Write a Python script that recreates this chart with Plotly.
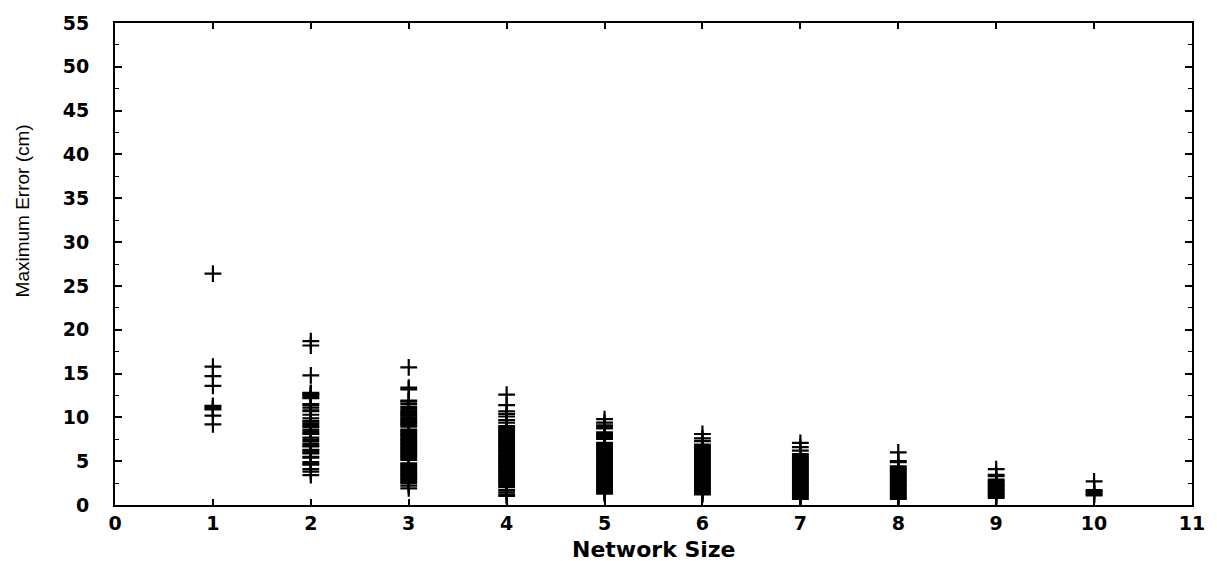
import plotly.graph_objects as go

# Maximum error observed for each network size
size_1 = [26.4, 15.8, 14.7, 13.6, 11.3, 11.2, 11.0, 10.9, 10.2, 9.2]
size_2 = [18.7, 18.2, 14.8, 12.8, 12.7, 12.6, 12.5, 12.3, 12.2, 11.5, 11.4, 11.1,
          10.8, 10.7, 10.3, 9.9, 9.6, 9.5, 9.3, 9.2, 9.0, 8.9, 8.6, 8.4, 8.2, 8.1,
          7.7, 7.5, 7.3, 7.0, 6.8, 6.7, 6.3, 6.2, 6.0, 5.9, 5.5, 5.4, 4.9, 4.7,
          4.6, 4.1, 3.8, 3.4]
size_3 = [15.7, 13.4, 13.2, 11.9, 11.8, 11.5, 11.2, 11.0, 10.8, 10.6, 10.5, 10.3,
          10.2, 10.0, 9.85, 9.7, 9.55, 9.4, 9.25, 9.1, 8.95, 8.6, 8.45, 8.3, 8.15,
          8.0, 7.85, 7.7, 7.55, 7.4, 7.25, 7.1, 6.95, 6.8, 6.65, 6.5, 6.35, 6.2,
          6.05, 5.9, 5.75, 5.6, 5.45, 5.3, 5.15, 4.75, 4.6, 4.45, 4.3, 4.15, 4.0,
          3.85, 3.7, 3.55, 3.4, 3.25, 3.1, 2.95, 2.8, 2.65, 2.5, 2.2, 1.9]
size_4 = [12.6, 11.4, 10.7, 10.4, 10.1, 9.7, 9.4, 9.0, 8.85, 8.7, 8.55, 8.4, 8.25,
          8.1, 7.95, 7.8, 7.65, 7.5, 7.35, 7.2, 7.05, 6.9, 6.75, 6.6, 6.45, 6.3,
          6.15, 6.0, 5.85, 5.7, 5.55, 5.4, 5.25, 5.1, 4.95, 4.8, 4.65, 4.5, 4.35,
          4.2, 4.05, 3.9, 3.75, 3.6, 3.45, 3.3, 3.15, 3.0, 2.85, 2.7, 2.55, 2.4,
          2.25, 2.05, 1.7, 1.45, 1.2, 1.05]
size_5 = [9.8, 9.4, 9.1, 8.9, 8.75, 8.3, 8.15, 8.0, 7.85, 7.7, 7.55, 7.1, 6.95,
          6.8, 6.65, 6.5, 6.35, 6.2, 6.05, 5.9, 5.75, 5.6, 5.45, 5.3, 5.15, 5.0,
          4.85, 4.7, 4.55, 4.4, 4.25, 4.1, 3.95, 3.8, 3.65, 3.5, 3.35, 3.2, 3.05,
          2.9, 2.75, 2.6, 2.45, 2.3, 2.15, 2.0, 1.85, 1.7, 1.55, 1.4, 1.3]
size_6 = [8.1, 7.6, 7.3, 6.9, 6.75, 6.6, 6.45, 6.3, 6.15, 6.0, 5.85, 5.7, 5.55,
          5.4, 5.25, 5.1, 4.95, 4.8, 4.65, 4.5, 4.35, 4.2, 4.05, 3.9, 3.75, 3.6,
          3.45, 3.3, 3.15, 3.0, 2.85, 2.7, 2.55, 2.4, 2.25, 2.1, 1.95, 1.8, 1.65,
          1.5, 1.35, 1.2]
size_7 = [7.1, 6.6, 6.2, 5.8, 5.65, 5.5, 5.35, 5.2, 5.05, 4.9, 4.75, 4.6, 4.45,
          4.3, 4.15, 4.0, 3.85, 3.7, 3.55, 3.4, 3.25, 3.1, 2.95, 2.8, 2.65, 2.5,
          2.35, 2.2, 2.05, 1.9, 1.75, 1.6, 1.45, 1.3, 1.15, 1.0, 0.85, 0.7]
size_8 = [6.0, 5.0, 4.9, 4.4, 4.25, 4.1, 3.95, 3.8, 3.65, 3.5, 3.35, 3.2, 3.05,
          2.9, 2.75, 2.6, 2.45, 2.3, 2.15, 2.0, 1.85, 1.7, 1.55, 1.4, 1.25, 1.1,
          0.95, 0.8, 0.7]
size_9 = [4.1, 3.45, 3.3, 2.9, 2.75, 2.6, 2.45, 2.3, 2.15, 2.0, 1.85, 1.7, 1.55,
          1.4, 1.25, 1.1, 0.95, 0.8]
size_10 = [2.7, 1.7, 1.6, 1.5, 1.3, 1.2, 1.1]

network_sizes = [1, 2, 3, 4, 5, 6, 7, 8, 9, 10]
errors_by_size = [size_1, size_2, size_3, size_4, size_5,
                  size_6, size_7, size_8, size_9, size_10]

x_ticks = list(range(0, 12))
y_ticks = list(range(0, 60, 5))

xs, ys = [], []
for n, errs in zip(network_sizes, errors_by_size):
    xs.extend([n] * len(errs))
    ys.extend(errs)

fig = go.Figure()
fig.add_trace(go.Scatter(
    x=xs, y=ys, mode="markers",
    marker=dict(symbol="cross-thin", size=12, color="black",
                line=dict(color="black", width=2.2)),
    hoverinfo="x+y", showlegend=False,
))

tick_font = dict(family="DejaVu Sans", size=19, color="black", weight="bold")

fig.update_layout(
    width=1217, height=561,
    margin=dict(l=115, r=25, t=15, b=56),
    paper_bgcolor="white", plot_bgcolor="white",
    xaxis=dict(
        range=[0, 11], tickvals=x_ticks, ticktext=[str(v) for v in x_ticks],
        ticks="inside", ticklen=6, tickwidth=1.5, tickcolor="black",
        showline=True, linecolor="black", linewidth=2, mirror="ticks",
        showgrid=False, zeroline=False, tickfont=tick_font,
        ticklabelstandoff=0,
    ),
    yaxis=dict(
        range=[0, 55], tickvals=y_ticks, ticktext=[str(v) for v in y_ticks],
        ticks="inside", ticklen=7, tickwidth=1.5, tickcolor="black",
        minor=dict(dtick=2.5, tick0=0, ticks="inside", ticklen=4,
                   tickcolor="black", tickwidth=1),
        showline=True, linecolor="black", linewidth=2, mirror="ticks",
        showgrid=False, zeroline=False, tickfont=tick_font,
        ticklabelstandoff=20,
    ),
    annotations=[
        dict(text="Network Size", xref="paper", yref="paper",
             x=0.5, y=-0.062, xanchor="center", yanchor="top",
             showarrow=False,
             font=dict(family="DejaVu Sans", size=22, color="black",
                       weight="bold")),
        dict(text="Maximum Error (cm)", xref="paper", yref="paper",
             x=-0.085, y=0.61, xanchor="center", yanchor="middle",
             textangle=-90, showarrow=False,
             font=dict(family="Liberation Sans", size=19, color="black")),
    ],
)

fig.write_html("out.html")
